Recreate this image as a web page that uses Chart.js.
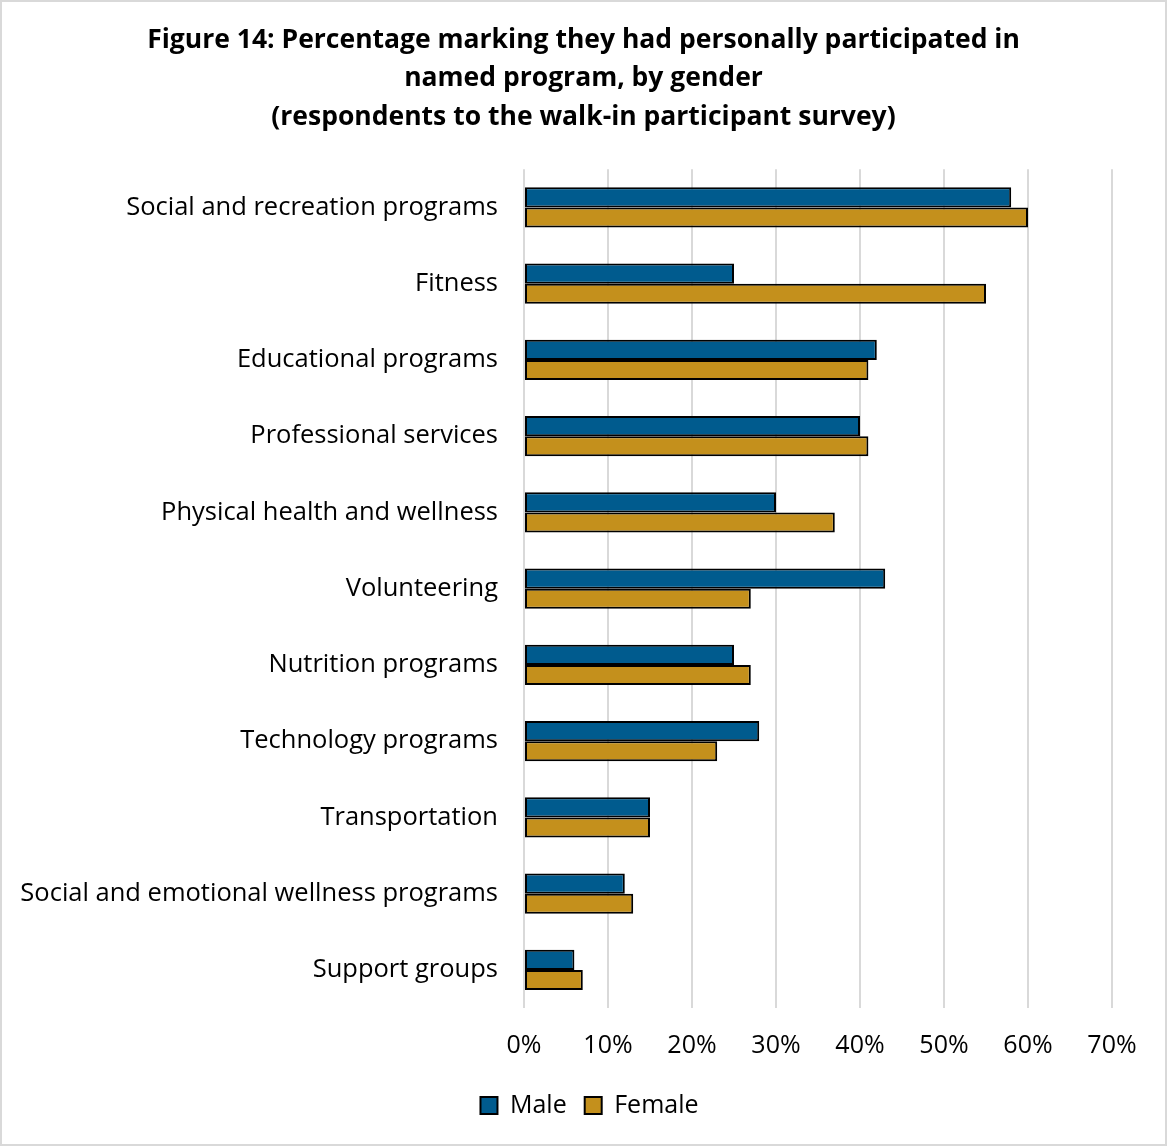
<!DOCTYPE html>
<html lang="en">
<head>
<meta charset="utf-8">
<title>Figure 14</title>
<script src="https://cdn.jsdelivr.net/npm/chart.js"></script>
<style>
    html, body { margin: 0; padding: 0; background: #fff; }
    .frame {
        width: 1167px;
        height: 1146px;
        box-sizing: border-box;
        border: 2px solid #d9d9d9;
        position: relative;
    }
</style>
</head>
<body>
<div class="frame">
    <canvas id="programChart" width="1163" height="1142"></canvas>
</div>
<script>
    const categories = [
        'Social and recreation programs',
        'Fitness',
        'Educational programs',
        'Professional services',
        'Physical health and wellness',
        'Volunteering',
        'Nutrition programs',
        'Technology programs',
        'Transportation',
        'Social and emotional wellness programs',
        'Support groups'
    ];
    const maleValues = [58, 25, 42, 40, 30, 43, 25, 28, 15, 12, 6];
    const femaleValues = [60, 55, 41, 41, 37, 27, 27, 23, 15, 13, 7];
    const xTicks = [0, 10, 20, 30, 40, 50, 60, 70];

    const fontFamily = "'Open Sans', 'Noto Sans', sans-serif";
    Chart.defaults.font.family = fontFamily;
    Chart.defaults.color = '#000';

    // title and legend are laid out over the padded width, which is lopsided here
    // because the long category labels need room on the left; re-centre them
    // (and lift the legend a little closer to the axis labels)
    const centreBlocks = {
        id: 'centreBlocks',
        afterLayout(chart) {
            const t = chart.titleBlock;
            if (t) {
                const w = t.right - t.left;
                t.left = (chart.width - w) / 2;
                t.right = t.left + w;
            }
            const l = chart.legend;
            if (l) {
                const w = l.right - l.left;
                l.left = (chart.width - w) / 2 + 6;
                l.right = l.left + w;
                l.top -= 9;
                l.bottom -= 9;
            }
        }
    };

    const ctx = document.getElementById('programChart').getContext('2d');
    new Chart(ctx, {
        type: 'bar',
        data: {
            labels: categories,
            datasets: [
                {
                    label: 'Male',
                    data: maleValues,
                    backgroundColor: '#005b8e',
                    borderColor: '#000',
                    borderWidth: 2,
                    borderSkipped: false
                },
                {
                    label: 'Female',
                    data: femaleValues,
                    backgroundColor: '#c4901c',
                    borderColor: '#000',
                    borderWidth: 2,
                    borderSkipped: false
                }
            ]
        },
        options: {
            indexAxis: 'y',
            responsive: false,
            animation: false,
            categoryPercentage: 0.53,
            barPercentage: 1,
            layout: { padding: { left: 12, right: 53, top: 0, bottom: 7 } },
            plugins: {
                title: {
                    display: true,
                    text: [
                        'Figure 14: Percentage marking they had personally participated in',
                        'named program, by gender',
                        '(respondents to the walk-in participant survey)'
                    ],
                    font: { size: 26.5, weight: 'bold', lineHeight: 1.45 },
                    padding: { top: 19, bottom: 33 }
                },
                legend: {
                    position: 'bottom',
                    labels: {
                        font: { size: 25 },
                        boxWidth: 17,
                        boxHeight: 17,
                        padding: 18,
                        useBorderRadius: false
                    }
                },
                tooltip: { enabled: false }
            },
            scales: {
                x: {
                    min: 0,
                    max: 70,
                    afterBuildTicks: (axis) => {
                        axis.ticks = xTicks.map(v => ({ value: v }));
                    },
                    ticks: {
                        font: { size: 25 },
                        padding: 23,
                        maxRotation: 0,
                        callback: (v) => v + '%'
                    },
                    grid: { color: '#d9d9d9', lineWidth: 2, drawTicks: false },
                    border: { display: false }
                },
                y: {
                    afterFit: (axis) => { axis.width = 510; },
                    ticks: {
                        font: { size: 25.5 },
                        padding: 26
                    },
                    grid: { display: false, drawTicks: false },
                    border: { display: false }
                }
            }
        },
        plugins: [centreBlocks]
    });
</script>
</body>
</html>
